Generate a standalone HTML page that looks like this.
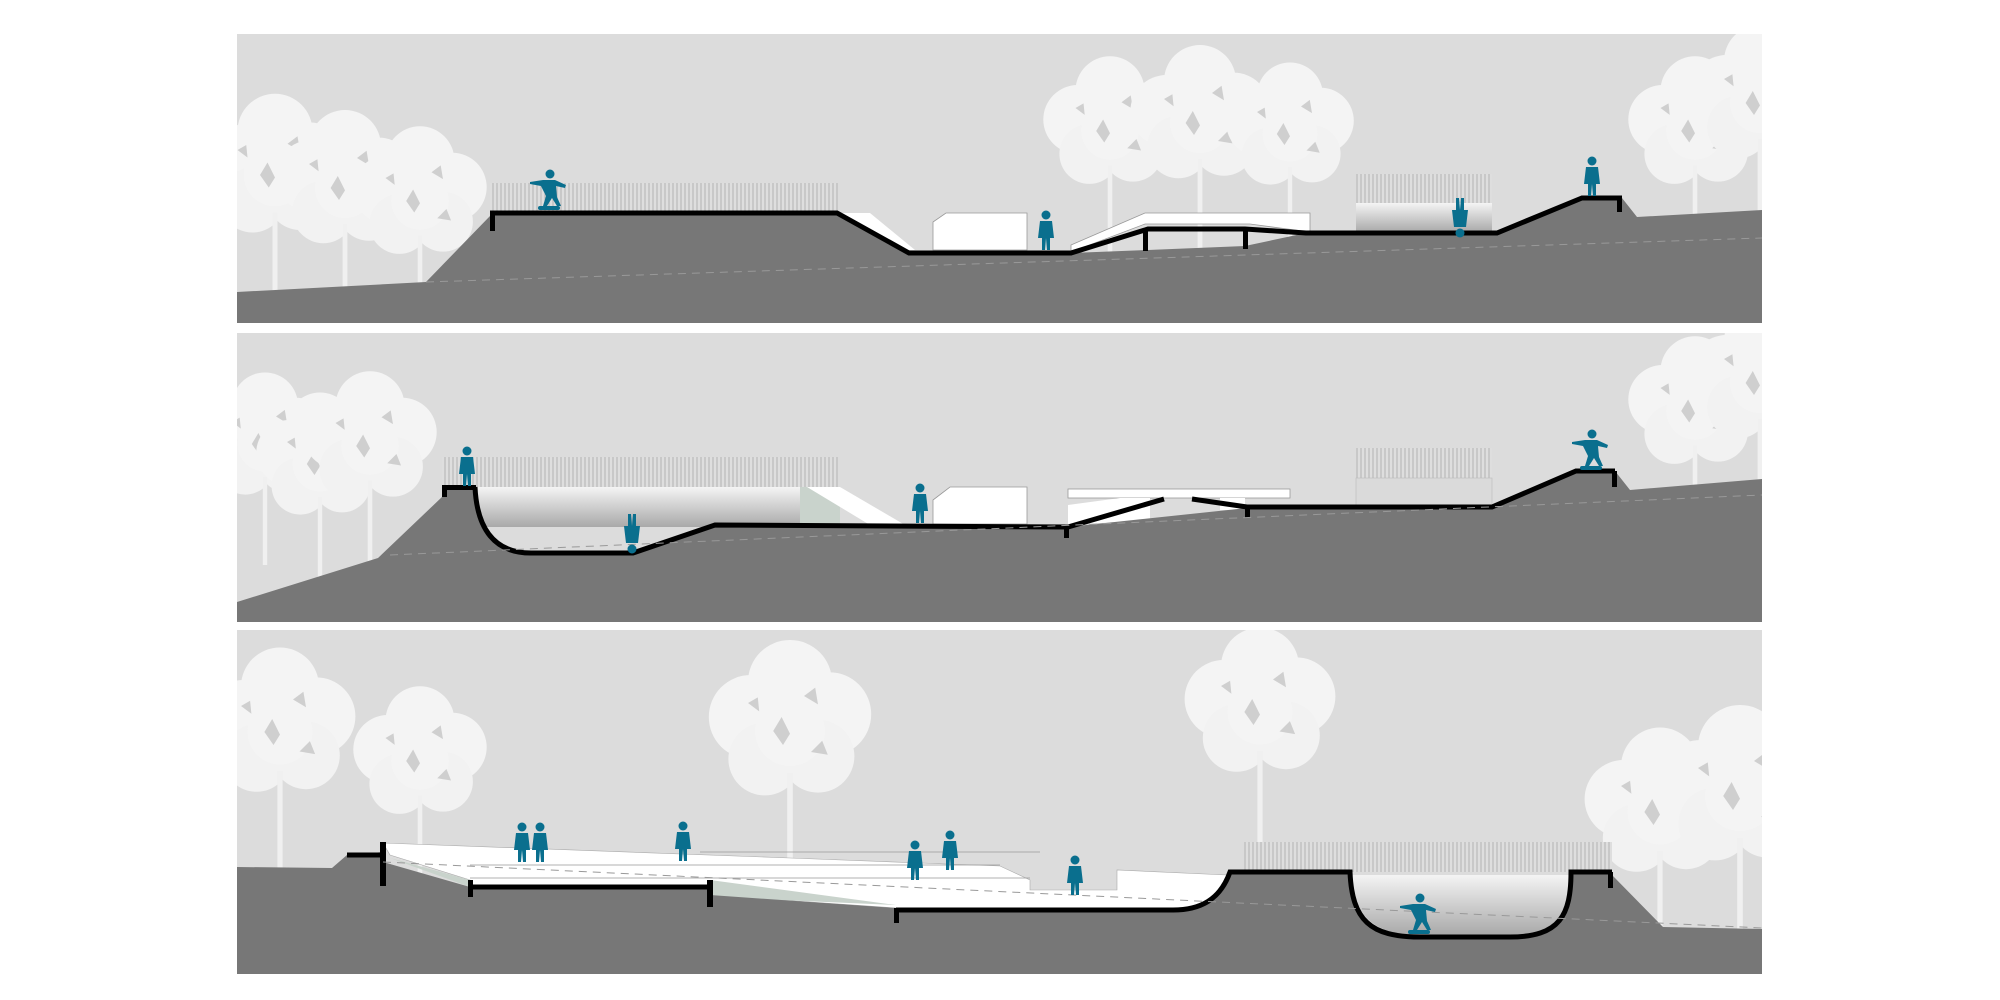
<!DOCTYPE html>
<html><head><meta charset="utf-8"><style>html,body{margin:0;padding:0;background:#fff}svg{display:block}</style></head>
<body>
<svg width="2000" height="1000" viewBox="0 0 2000 1000" xmlns="http://www.w3.org/2000/svg">
<defs>
<clipPath id="c1"><rect x="237" y="34" width="1525" height="289"/></clipPath>
<clipPath id="c2"><rect x="237" y="333" width="1525" height="289"/></clipPath>
<clipPath id="c3"><rect x="237" y="630" width="1525" height="344"/></clipPath>
<linearGradient id="bg" x1="0" y1="0" x2="0" y2="1"><stop offset="0" stop-color="#f4f4f4"/><stop offset="1" stop-color="#a9a9a9"/></linearGradient>
<pattern id="rail" width="4" height="10" patternUnits="userSpaceOnUse"><rect width="4" height="10" fill="#dedede"/><line x1="1" y1="0" x2="1" y2="10" stroke="#a8a8a8" stroke-width="0.8"/></pattern>
<g id="tree">
<circle cx="0" cy="-95" r="30" fill="#f4f4f4"/><circle cx="-28" cy="-70" r="30" fill="#f4f4f4"/><circle cx="28" cy="-72" r="30" fill="#f4f4f4"/>
<circle cx="-18" cy="-40" r="26" fill="#f2f2f2"/><circle cx="20" cy="-42" r="26" fill="#f2f2f2"/><circle cx="0" cy="-60" r="25" fill="#f4f4f4"/>
<path d="M-12,-60 l6,-10 l6,12 l-5,8 Z M10,-85 l8,-6 l2,12 Z M-30,-80 l7,-4 l1,10 Z M15,-45 l8,-8 l4,10 Z" fill="#cfcfcf"/>
<rect x="-2" y="-30" width="4" height="80" fill="#f0f0f0"/>
</g>
<g id="man" fill="#0a6f8e"><circle cx="0" cy="-35" r="4.5"/><path d="M-6,-29 L6,-29 L8,-12 L4,-12 L4,0 L1,0 L0,-12 L-1,0 L-4,0 L-4,-12 L-8,-12 Z"/></g>
<g id="sk" fill="#0a6f8e"><circle cx="2" cy="-36" r="4.5"/><path d="M-5,-30 L7,-30 L18,-25 L17,-22 L8,-24 L9,-13 L13,-4 L9,-4 L4,-12 L-1,-4 L-5,-4 L-2,-14 L-7,-24 L-18,-26 L-18,-28 Z"/><rect x="-10" y="-4" width="22" height="4" rx="2"/></g>
</defs>

<!-- PANEL 1 -->
<rect x="237" y="34" width="1525" height="289" fill="#dcdcdc"/>
<g clip-path="url(#c1)">
<g transform="translate(275,250) scale(1.25)"><use href="#tree"/></g>
<g transform="translate(345,260) scale(1.2)"><use href="#tree"/></g>
<g transform="translate(420,270) scale(1.15)"><use href="#tree"/></g>
<g transform="translate(1110,200) scale(1.15)"><use href="#tree"/></g>
<g transform="translate(1200,195) scale(1.2)"><use href="#tree"/></g>
<g transform="translate(1290,200) scale(1.1)"><use href="#tree"/></g>
<g transform="translate(1695,200) scale(1.15)"><use href="#tree"/></g>
<g transform="translate(1760,175) scale(1.2)"><use href="#tree"/></g>
<rect x="490" y="183" width="348" height="30" fill="url(#rail)"/>
<rect x="1356" y="174" width="136" height="29" fill="url(#rail)"/>
<rect x="1356" y="203" width="136" height="29" fill="url(#bg)"/>
<path d="M933,250 L933,222 L946,213 L1027,213 L1027,250 Z" fill="#fff" stroke="#999" stroke-width="0.8"/>
<path d="M840,213 L870,213 L915,250 L900,250 Z" fill="#fff"/>
<path d="M1071,245 L1145,213 L1310,213 L1310,232 L1250,224 L1145,224 L1071,252 Z" fill="#fff" stroke="#999" stroke-width="0.8"/>
<path d="M237,292 L426,282 L490,216 L490,213 L837,213 L909,253 L1071,253 L1148,250 L1245,246 L1306,233 L1497,233 L1582,198 L1622,198 L1637,217 L1762,210 L1762,323 L237,323 Z" fill="#777"/>
<path d="M490,213 L837,213 L909,253 L1071,253 L1148,229 L1245,229 L1306,233 L1497,233 L1582,198 L1622,198" fill="none" stroke="#000" stroke-width="5"/>
<rect x="490" y="211" width="5" height="20" fill="#000"/>
<rect x="1143" y="229" width="5" height="22" fill="#000"/><rect x="1243" y="229" width="5" height="20" fill="#000"/>
<rect x="1617" y="198" width="5" height="14" fill="#000"/>
<path d="M426,282 L1762,238" stroke="#999" stroke-width="1" stroke-dasharray="8,6" fill="none"/>
<use href="#sk" x="548" y="210"/><use href="#man" x="1046" y="250"/>
<g transform="translate(1460,198) rotate(180)"><use href="#man"/></g>
<use href="#man" x="1592" y="196"/>
</g>

<!-- PANEL 2 -->
<rect x="237" y="333" width="1525" height="289" fill="#dcdcdc"/>
<g clip-path="url(#c2)">
<g transform="translate(265,510) scale(1.1)"><use href="#tree"/></g>
<g transform="translate(320,530) scale(1.1)"><use href="#tree"/></g>
<g transform="translate(370,515) scale(1.15)"><use href="#tree"/></g>
<g transform="translate(1695,480) scale(1.15)"><use href="#tree"/></g>
<g transform="translate(1760,455) scale(1.2)"><use href="#tree"/></g>
<rect x="442" y="457" width="396" height="30" fill="url(#rail)"/>
<rect x="475" y="487" width="325" height="40" fill="url(#bg)"/>
<rect x="800" y="487" width="40" height="40" fill="#c9d3cc"/>
<path d="M807,487 L840,487 L905,525 L870,525 Z" fill="#fff"/>
<path d="M933,524 L933,500 L950,487 L1027,487 L1027,524 Z" fill="#fff" stroke="#999" stroke-width="0.8"/>
<rect x="1068" y="489" width="222" height="9" fill="#fff" stroke="#999" stroke-width="0.8"/>
<path d="M1068,525 L1068,505 L1120,498 L1150,498 L1150,520 Z M1220,498 L1245,498 L1245,510 L1220,510 Z" fill="#fff"/>
<rect x="1356" y="448" width="136" height="30" fill="url(#rail)"/>
<rect x="1356" y="478" width="136" height="29" fill="#dadada" stroke="#bbb" stroke-width="0.6"/>
<path d="M237,602 L378,558 L442,497 L442,487 L475,487 C477,530 495,553 531,553 L633,553 L715,525 L1068,527 L1247,508 L1492,507 L1576,471 L1615,471 L1630,490 L1762,479 L1762,622 L237,622 Z" fill="#777"/>
<path d="M475,487 C477,530 495,553 531,553 L633,553 L715,525 L1068,527 L1164,499 M1192,499 L1247,507 L1492,507 L1576,471 L1615,471" fill="none" stroke="#000" stroke-width="5"/>
<rect x="442" y="485" width="34" height="5" fill="#000"/><rect x="442" y="485" width="5" height="12" fill="#000"/>
<rect x="1064" y="526" width="5" height="12" fill="#000"/><rect x="1245" y="506" width="5" height="12" fill="#000"/>
<rect x="1612" y="471" width="5" height="16" fill="#000"/>
<path d="M390,555 L1762,495" stroke="#999" stroke-width="1" stroke-dasharray="8,6" fill="none"/>
<use href="#man" x="467" y="486"/>
<g transform="translate(632,514) rotate(180)"><use href="#man"/></g>
<use href="#man" x="920" y="523"/><use href="#sk" x="1590" y="470"/>
</g>

<!-- PANEL 3 -->
<rect x="237" y="630" width="1525" height="344" fill="#dcdcdc"/>
<g clip-path="url(#c3)">
<g transform="translate(280,810) scale(1.3)"><use href="#tree"/></g>
<g transform="translate(420,830) scale(1.15)"><use href="#tree"/></g>
<g transform="translate(790,815) scale(1.4)"><use href="#tree"/></g>
<g transform="translate(1260,790) scale(1.3)"><use href="#tree"/></g>
<g transform="translate(1660,890) scale(1.3)"><use href="#tree"/></g>
<g transform="translate(1740,880) scale(1.4)"><use href="#tree"/></g>
<rect x="1244" y="842" width="368" height="30" fill="url(#rail)"/>
<path d="M383,843 L790,858 L1000,866 L1030,880 L1030,890 L1117,890 L1117,870 L1227,875 L1230,880 C1215,905 1195,910 1173,910 L896,910 L896,908 L710,895 L710,887 L470,887 L470,880 L390,855 Z" fill="#fff" stroke="#aaa" stroke-width="0.6"/>
<path d="M390,858 L470,880 L470,887 Z M710,880 L896,905 L710,897 Z" fill="#c9d3cc"/>
<path d="M470,865 L1000,865 M470,878 L1030,878 M700,852 L1040,852" stroke="#999" stroke-width="0.7"/>
<path d="M237,867 L332,868 L347,855 L383,852 L383,862 L470,887 L710,887 L710,895 L896,908 L896,910 L1173,910 C1200,910 1220,900 1230,872 L1350,872 C1352,920 1370,937 1420,937 L1510,937 C1560,937 1571,915 1571,872 L1612,872 L1612,875 L1663,927 L1762,929 L1762,974 L237,974 Z" fill="#777"/>
<path d="M1352,875 L1569,875 C1569,915 1555,935 1510,935 L1420,935 C1372,935 1354,915 1352,875 Z" fill="url(#bg)"/>
<path d="M347,855 L383,855 M470,887 L710,887 M896,910 L1173,910 C1200,910 1220,900 1230,872 L1350,872 C1352,920 1370,937 1420,937 L1510,937 C1560,937 1571,915 1571,872 L1612,872" fill="none" stroke="#000" stroke-width="5"/>
<rect x="380" y="842" width="6" height="44" fill="#000"/>
<rect x="468" y="880" width="5" height="17" fill="#000"/><rect x="707" y="880" width="6" height="27" fill="#000"/>
<rect x="894" y="908" width="5" height="15" fill="#000"/><rect x="1608" y="872" width="5" height="16" fill="#000"/>
<path d="M383,862 L1762,928" stroke="#999" stroke-width="1" stroke-dasharray="8,6" fill="none"/>
<use href="#man" x="522" y="862"/><use href="#man" x="540" y="862"/><use href="#man" x="683" y="861"/>
<use href="#man" x="915" y="880"/><use href="#man" x="950" y="870"/><use href="#man" x="1075" y="895"/>
<use href="#sk" x="1418" y="934"/>
</g>
</svg>
</body></html>
